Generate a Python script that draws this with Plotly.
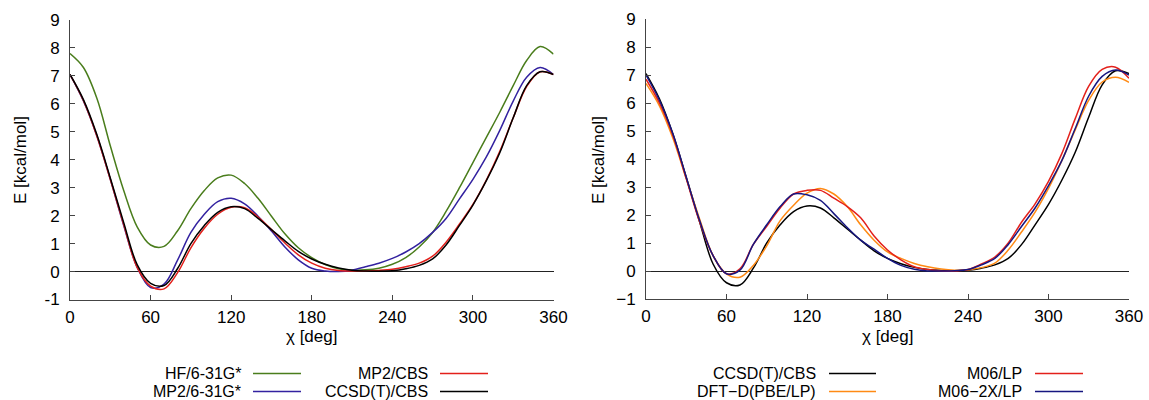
import plotly.graph_objects as go

W, H = 1149, 400

chi = list(range(0, 361, 10))

# Left panel
hf_631g = [7.8, 7.3, 6.2, 4.5, 2.9, 1.6, 0.95, 0.9, 1.45, 2.25, 2.9, 3.35, 3.45, 3.15, 2.62, 1.98,
           1.35, 0.85, 0.5, 0.25, 0.1, 0.05, 0.06, 0.12, 0.26, 0.5, 0.88, 1.4, 2.15, 3.0, 3.9, 4.8,
           5.7, 6.65, 7.55, 8.05, 7.78]
mp2_631g = [7.05, 6.1, 4.85, 3.3, 1.65, 0.15, -0.57, -0.45, 0.4, 1.4, 2.05, 2.5, 2.62, 2.42, 1.98, 1.45,
            0.88, 0.42, 0.12, 0.02, 0.0, 0.05, 0.17, 0.3, 0.47, 0.7, 1.0, 1.4, 1.9, 2.6, 3.3, 4.1,
            5.05, 6.1, 6.95, 7.3, 7.05]
mp2_cbs = [7.05, 6.12, 4.85, 3.3, 1.68, 0.15, -0.52, -0.62, -0.05, 0.85, 1.55, 2.05, 2.3, 2.28, 1.95, 1.5,
           1.02, 0.6, 0.3, 0.12, 0.04, 0.02, 0.02, 0.04, 0.08, 0.17, 0.3, 0.55, 1.05, 1.7, 2.4, 3.27,
           4.3, 5.5, 6.62, 7.15, 7.05]
ccsdt_cbs = [7.05, 6.15, 4.9, 3.35, 1.75, 0.25, -0.42, -0.5, 0.1, 1.0, 1.65, 2.12, 2.32, 2.25, 1.9, 1.5,
             1.1, 0.72, 0.45, 0.26, 0.13, 0.05, 0.02, 0.01, 0.03, 0.1, 0.22, 0.45, 0.95, 1.65, 2.38, 3.25,
             4.25, 5.5, 6.65, 7.15, 7.05]

# Right panel
dftd_pbe = [6.7, 5.9, 4.75, 3.3, 1.85, 0.55, -0.1, -0.22, 0.2, 0.9, 1.8, 2.35, 2.78, 2.95, 2.75, 2.3,
            1.65, 1.1, 0.68, 0.45, 0.27, 0.15, 0.07, 0.03, 0.04, 0.12, 0.28, 0.75, 1.4, 2.1, 2.95, 3.95,
            5.05, 6.1, 6.75, 6.92, 6.74]
m06_lp = [6.85, 6.0, 4.85, 3.3, 1.75, 0.55, -0.1, 0.08, 0.95, 1.6, 2.25, 2.75, 2.88, 2.88, 2.6, 2.3,
          1.9, 1.25, 0.75, 0.4, 0.15, 0.05, 0.0, 0.0, 0.05, 0.25, 0.5, 1.0, 1.75, 2.4, 3.2, 4.2,
          5.45, 6.6, 7.2, 7.28, 6.88]
m062x_lp = [7.0, 6.1, 4.9, 3.35, 1.8, 0.55, -0.1, 0.03, 0.95, 1.65, 2.3, 2.75, 2.72, 2.52, 2.05, 1.55,
            1.1, 0.78, 0.45, 0.2, 0.06, 0.0, 0.0, 0.01, 0.05, 0.22, 0.45, 0.95, 1.6, 2.25, 3.05, 3.95,
            5.1, 6.25, 6.95, 7.18, 7.0]

x_ticks = [0, 60, 120, 180, 240, 300, 360]
y_ticks = [-1, 0, 1, 2, 3, 4, 5, 6, 7, 8, 9]
y_ticktext_left = ["-1", "0", "1", "2", "3", "4", "5", "6", "7", "8", "9"]
y_ticktext_right = ["\u22121", "0", "1", "2", "3", "4", "5", "6", "7", "8", "9"]

left_series = [
    ("HF/6-31G*", hf_631g, "#4a7d1c"),
    ("MP2/6-31G*", mp2_631g, "#3322a0"),
    ("MP2/CBS", mp2_cbs, "#e3201b"),
    ("CCSD(T)/CBS", ccsdt_cbs, "#000000"),
]
right_series = [
    ("CCSD(T)/CBS", ccsdt_cbs, "#000000"),
    ("DFT\u2212D(PBE/LP)", dftd_pbe, "#ff8a14"),
    ("M06/LP", m06_lp, "#e3201b"),
    ("M06\u22122X/LP", m062x_lp, "#161680"),
]

FONT = "Liberation Sans, Arial, Helvetica, sans-serif"
FS = 17
LEG_FS = 16

fig = go.Figure()
for name, ys, col in left_series:
    fig.add_trace(go.Scatter(x=chi, y=ys, mode="lines", name=name, xaxis="x", yaxis="y",
                             line=dict(color=col, width=1.5, shape="spline", smoothing=1.0),
                             showlegend=False))
for name, ys, col in right_series:
    fig.add_trace(go.Scatter(x=chi, y=ys, mode="lines", name=name, xaxis="x2", yaxis="y2",
                             line=dict(color=col, width=1.5, shape="spline", smoothing=1.0),
                             showlegend=False))

def px(x):
    return x / W

def py(y):
    return 1 - y / H

axis_common = dict(
    showline=True, linecolor="#444444", linewidth=1,
    ticks="inside", ticklen=5, tickcolor="#444444", tickwidth=1,
    showgrid=False, tickfont=dict(family=FONT, size=FS, color="#000000"),
    mirror=False, automargin=False,
)

fig.update_layout(
    template="none",
    width=W, height=H,
    margin=dict(l=0, r=0, t=0, b=0),
    paper_bgcolor="#ffffff", plot_bgcolor="#ffffff",
    font=dict(family=FONT, size=FS, color="#000000"),
    xaxis=dict(domain=[px(70), px(553.5)], range=[0, 360], tickvals=x_ticks, anchor="y",
               zeroline=False, ticklabelstandoff=2, **axis_common),
    yaxis=dict(domain=[py(299.5), py(20)], range=[-1, 9], tickvals=y_ticks, ticktext=y_ticktext_left,
               anchor="x", zeroline=True, zerolinecolor="#222222", zerolinewidth=1,
               ticklabelstandoff=6, **axis_common),
    xaxis2=dict(domain=[px(646), px(1129)], range=[0, 360], tickvals=x_ticks, anchor="y2",
                zeroline=False, ticklabelstandoff=2, **axis_common),
    yaxis2=dict(domain=[py(299), py(19)], range=[-1, 9], tickvals=y_ticks, ticktext=y_ticktext_right,
                anchor="x2", zeroline=True, zerolinecolor="#222222", zerolinewidth=1,
                ticklabelstandoff=6, **axis_common),
)

annotations = []
shapes = []
# axis titles
for cx in (311.7, 887.5):
    annotations.append(dict(x=px(cx), y=py(336), xref="paper", yref="paper", text="\u03c7 [deg]",
                            showarrow=False, xanchor="center", yanchor="middle",
                            font=dict(family=FONT, size=FS)))
for cx in (20, 598):
    annotations.append(dict(x=px(cx), y=py(160), xref="paper", yref="paper", text="E [kcal/mol]",
                            showarrow=False, xanchor="center", yanchor="middle", textangle=-90,
                            font=dict(family=FONT, size=FS)))

# legends (text right-aligned, then line sample)
legend_layout = [
    (left_series, [(241.7, 253, 301), (241.7, 253, 301), (429, 440, 488), (429, 440, 488)]),
    (right_series, [(817, 829, 876), (817, 829, 876), (1023, 1035, 1083), (1023, 1035, 1083)]),
]
rows_y = [373.5, 391.5, 373.5, 391.5]
for series, pos in legend_layout:
    for (name, _, col), (tx, l0, l1), ry in zip(series, pos, rows_y):
        annotations.append(dict(x=px(tx), y=py(ry), xref="paper", yref="paper", text=name,
                                showarrow=False, xanchor="right", yanchor="middle", borderpad=0,
                                font=dict(family=FONT, size=LEG_FS)))
        shapes.append(dict(type="line", xref="paper", yref="paper", x0=px(l0), x1=px(l1),
                           y0=py(ry), y1=py(ry), line=dict(color=col, width=1.5)))

fig.update_layout(annotations=annotations, shapes=shapes)
fig.write_html("out.html")
